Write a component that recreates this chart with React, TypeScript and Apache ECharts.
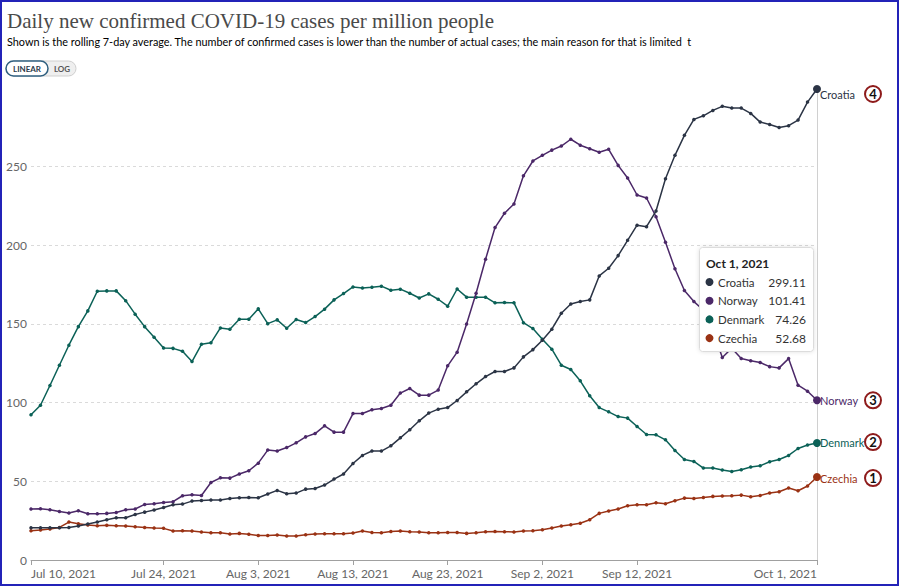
import React, { useEffect, useRef } from "react";
import * as echarts from "echarts";

const croatia = [20.5,20.5,20.5,20.5,20.7,21.6,22.8,24.1,25.6,26.8,26.8,28.9,30.4,31.7,33.4,35.1,35.5,37.4,37.8,38.1,38.1,39.1,39.5,39.7,39.5,41.9,44.2,42.1,42.5,45.0,45.4,47.6,51.4,54.6,61.3,66.4,69.2,69.2,72.5,77.6,82.7,88.4,93.3,95.8,96.8,101.3,106.8,111.9,116.5,119.7,119.7,122.0,129.0,133.6,139.6,146.6,156.7,162.6,164.1,165.2,180.4,185.3,193.3,203.0,212.6,211.7,221.6,242.1,257.0,269.7,279.8,282.1,285.5,288.1,287.0,287.0,283.6,278.1,276.6,274.7,275.8,279.4,290.8,299.11];
const norway = [32.4,32.6,31.9,30.8,29.8,31.3,29.4,29.4,29.6,30.2,31.9,32.4,35.3,35.7,36.5,37.0,40.8,41.4,41.0,49.2,52.2,52.0,54.6,56.7,61.5,69.8,69.2,71.4,74.4,78.2,80.3,85.2,81.2,81.2,93.0,93.0,95.4,96.2,98.3,106.0,108.9,104.7,104.7,107.9,123.3,132.0,149.9,169.4,191.0,211.1,220.2,226.1,244.0,253.4,257.0,260.3,262.9,267.2,263.4,261.2,258.9,260.8,250.6,242.6,231.8,229.9,218.0,201.8,185.0,171.1,164.1,158.8,146.0,128.6,134.5,127.9,126.5,125.4,122.8,122.0,127.9,111.0,107.2,101.41];
const denmark = [92.2,98.3,110.8,123.7,136.4,148.2,158.2,170.7,170.9,170.9,164.7,156.1,148.2,141.5,134.7,134.4,132.6,126.0,137.0,137.9,147.4,146.6,152.9,152.9,159.5,150.1,152.5,147.2,152.7,150.8,154.6,159.3,165.2,169.2,173.4,172.8,173.2,173.9,171.3,172.0,169.4,166.4,169.0,165.6,161.2,172.1,166.9,166.9,166.9,163.3,163.5,163.3,150.7,147.0,140.2,133.9,123.7,121.0,113.8,104.3,96.8,94.1,91.1,90.1,84.8,79.7,79.5,76.3,69.5,63.8,62.6,58.4,58.4,57.1,56.2,57.3,59.0,59.8,62.4,63.8,66.4,70.8,73.0,74.26];
const czechia = [18.6,19.0,19.7,20.7,24.1,23.0,22.2,21.8,22.0,21.8,21.6,21.1,20.7,20.3,20.1,18.4,18.6,18.4,17.8,17.3,17.3,16.5,16.9,16.3,15.6,15.6,15.9,15.2,15.3,16.1,16.5,16.7,16.7,16.7,17.1,18.4,17.5,17.3,18.1,18.4,18.0,17.8,17.3,17.3,17.5,17.5,16.9,17.3,18.0,18.1,18.0,17.8,18.4,18.6,19.2,20.3,21.6,22.4,23.3,25.6,29.6,31.1,32.4,34.5,35.1,35.1,36.4,35.7,37.6,39.3,39.1,39.7,40.4,40.6,40.8,41.2,40.2,41.0,42.5,43.3,45.7,44.0,47.0,52.68];

const seriesNames = ["Croatia", "Norway", "Denmark", "Czechia"];
const seriesColors = ["#2b3445", "#4b2868", "#0b6157", "#9a3214"];
const annotationNumbers = ["4", "3", "2", "1"];
const labelOffsets = [5, 0, -1, 1];
const allValues = [croatia, norway, denmark, czechia];

const MONTHS = ["Jan","Feb","Mar","Apr","May","Jun","Jul","Aug","Sep","Oct","Nov","Dec"];
const startDay = Date.UTC(2021, 6, 10);
const dates = croatia.map((_, i) => {
  const d = new Date(startDay + i * 86400000);
  return `${MONTHS[d.getUTCMonth()]} ${d.getUTCDate()}, ${d.getUTCFullYear()}`;
});
const tickLabels = ["Jul 10, 2021","Jul 24, 2021","Aug 3, 2021","Aug 13, 2021","Aug 23, 2021","Sep 2, 2021","Sep 12, 2021","Oct 1, 2021"];

const titleText = "Daily new confirmed COVID-19 cases per million people";
const subtitleText = "Shown is the rolling 7-day average. The number of confirmed cases is lower than the number of actual cases; the main reason for that is limited";

const FONT = "Lato, 'Noto Sans', sans-serif";

export default function App() {
  const ref = useRef<HTMLDivElement>(null);
  useEffect(() => {
    if (!ref.current) return;
    const chart = echarts.init(ref.current, undefined, { renderer: "svg" });
    const last = dates.length - 1;

    const series: any[] = allValues.map((vals, k) => ({
      name: seriesNames[k],
      type: "line",
      data: vals.map((v, i) => (i === last ? { value: v, symbolSize: 8 } : v)),
      symbol: "circle",
      symbolSize: 3.5,
      showSymbol: true,
      showAllSymbol: true,
      silent: true,
      z: 10 - k,
      lineStyle: { width: 1.5, color: seriesColors[k] },
      itemStyle: { color: seriesColors[k] },
      emphasis: { disabled: true },
      endLabel: {
        show: true,
        distance: 3,
        offset: [0, labelOffsets[k]],
        formatter: `{n|${seriesNames[k]}}{c|${annotationNumbers[k]}}`,
        rich: {
          n: { width: 45, fontSize: 11, fontFamily: FONT, color: seriesColors[k] },
          c: {
            width: 14, height: 14, lineHeight: 14, padding: [1, 1, 1, 1],
            borderRadius: 9, borderWidth: 2, borderColor: "#8e1b1b",
            align: "center", fontSize: 13, fontWeight: "bold", fontFamily: FONT, color: "#111",
          },
        },
      },
      markLine: k === 0 ? {
        silent: true, symbol: "none", label: { show: false },
        lineStyle: { color: "#d0d0d0", type: "solid", width: 1 },
        data: [{ xAxis: dates[last] }],
      } : undefined,
    }));

    const tipX = 699.5, tipY = 247.5;
    const TZ = 100;
    const tipChildren: any[] = [
      { type: "rect", z: TZ, shape: { x: tipX, y: tipY, width: 114, height: 104, r: 3 },
        style: { fill: "#fff", stroke: "#dcdcdc", lineWidth: 1, shadowBlur: 4, shadowColor: "rgba(0,0,0,0.12)" } },
      { type: "text", z: TZ + 1, x: 706, y: 263, style: { text: dates[last], fontFamily: FONT, fontSize: 12, fontWeight: "bold", fill: "#222", verticalAlign: "middle" } },
    ];
    seriesNames.forEach((nm, k) => {
      const yy = 282 + k * 18.7;
      tipChildren.push({ type: "circle", z: TZ + 1, shape: { cx: 709.5, cy: yy, r: 4 }, style: { fill: seriesColors[k] } });
      tipChildren.push({ type: "text", z: TZ + 1, x: 718, y: yy, style: { text: nm, fontFamily: FONT, fontSize: 11.5, fill: "#333", verticalAlign: "middle" } });
      tipChildren.push({ type: "text", z: TZ + 1, x: 806, y: yy, style: { text: allValues[k][last].toFixed(2), fontFamily: FONT, fontSize: 12, fill: "#333", align: "right", verticalAlign: "middle" } });
    });

    chart.setOption({
      animation: false,
      backgroundColor: "#fff",
      grid: { left: 31, right: 83, top: 89, bottom: 27, containLabel: false },
      xAxis: {
        type: "category",
        data: dates,
        boundaryGap: false,
        axisLine: { show: true, lineStyle: { color: "#a0a0a0", width: 1 } },
        axisTick: { show: true, length: 5, interval: (i: number, v: string) => tickLabels.includes(v), lineStyle: { color: "#a0a0a0" } },
        axisLabel: {
          interval: (i: number, v: string) => tickLabels.includes(v),
          fontFamily: FONT, fontSize: 12, color: "#666", margin: 7,
          alignMinLabel: "left", alignMaxLabel: "right",
        },
        splitLine: { show: false },
      },
      yAxis: {
        type: "value",
        min: 0,
        max: "dataMax",
        interval: 50,
        axisLine: { show: false },
        axisTick: { show: false },
        axisLabel: { fontFamily: FONT, fontSize: 12, color: "#666", margin: 4, showMaxLabel: false },
        splitLine: { show: true, showMinLine: false, showMaxLine: false, lineStyle: { color: "#dadada", type: [3, 3], width: 1 } },
      },
      series,
      graphic: [
        { type: "rect", z: 200, silent: true, shape: { x: 1, y: 1, width: 897, height: 584 }, style: { fill: "none", stroke: "#2323b8", lineWidth: 2 } },
        { type: "text", left: 7, top: 10, style: { text: titleText, fontFamily: "'Liberation Serif', 'DejaVu Serif', serif", fontSize: 21, fill: "#4a4a4a" } },
        { type: "text", left: 7, top: 35, style: {
          text: `{a|${subtitleText}} {b|t}`,
          rich: {
            a: { fontFamily: FONT, fontSize: 10.85, color: "#5b5b5b" },
            b: { fontFamily: FONT, fontSize: 10.85, color: "#dedede" },
          },
        } },
        { type: "rect", shape: { x: 6, y: 61, width: 70, height: 15, r: 7.5 }, style: { fill: "#efefef", stroke: "#cfcfcf", lineWidth: 1 } },
        { type: "rect", shape: { x: 6, y: 61, width: 42, height: 15, r: 7.5 }, style: { fill: "#fff", stroke: "#2f5f7f", lineWidth: 1.5 } },
        { type: "text", x: 27, y: 68.5, style: { text: "LINEAR", fontFamily: FONT, fontSize: 8, fontWeight: "bold", fill: "#2b3a4a", align: "center", verticalAlign: "middle" } },
        { type: "text", x: 62, y: 68.5, style: { text: "LOG", fontFamily: FONT, fontSize: 8, fontWeight: "bold", fill: "#555", align: "center", verticalAlign: "middle" } },
        { type: "group", z: TZ, children: tipChildren },
      ],
    });
    return () => chart.dispose();
  }, []);
  return <div ref={ref} style={{ position: "fixed", left: 0, top: 0, width: 900, height: 587, background: "#fff" }} />;
}
